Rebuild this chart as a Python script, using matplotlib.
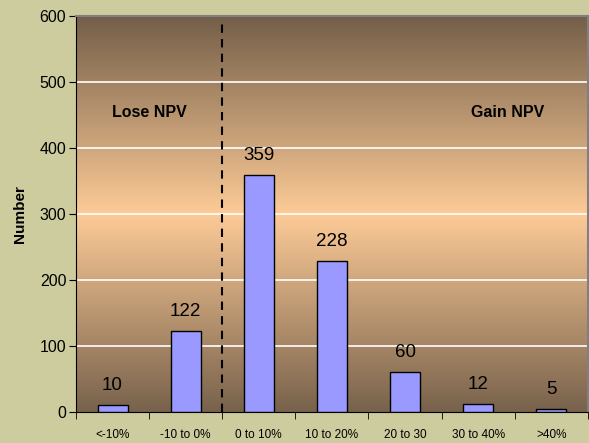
import numpy as np
import matplotlib
matplotlib.use('Agg')
import matplotlib.pyplot as plt
from matplotlib.colors import LinearSegmentedColormap

categories = ['<-10%', '-10 to 0%', '0 to 10%', '10 to 20%', '20 to 30', '30 to 40%', '>40%']
counts = [10, 122, 359, 228, 60, 12, 5]
yticks = [0, 100, 200, 300, 400, 500, 600]

plt.rcParams['font.family'] = ['Liberation Sans', 'DejaVu Sans']

fig = plt.figure(figsize=(5.89, 4.43), dpi=100)
fig.patch.set_facecolor('#cccc9e')
ax = fig.add_axes([0.129, 0.070, 0.869, 0.894])

x = np.arange(len(categories))
ax.set_xlim(-0.5, len(categories) - 0.5)
ax.set_ylim(0, 600)

# gradient background: brown -> peach -> brown
cmap = LinearSegmentedColormap.from_list('bg', ['#78624c', '#fdcb97', '#735e48'])
grad = np.linspace(0, 1, 256).reshape(-1, 1)
ax.imshow(grad, aspect='auto', cmap=cmap, origin='lower',
          extent=[-0.5, len(categories) - 0.5, 0, 600], zorder=0)

for yv in yticks[1:-1]:
    ax.axhline(yv, color='white', lw=1.2, zorder=1)

ax.bar(x, counts, width=0.41, color='#9999ff', edgecolor='black', lw=1, zorder=3)
for xi, c in zip(x, counts):
    ax.annotate(str(c), (xi, c), xytext=(0, 8), textcoords='offset points',
                ha='center', va='bottom', fontsize=13.5)

ax.axvline(1.5, color='black', ls=(0, (4, 3)), lw=1.5, ymax=0.99, zorder=2)

ax.text(0.5, 453, 'Lose NPV', ha='center', va='center', fontsize=11.5, fontweight='bold')
ax.text(5.4, 453, 'Gain NPV', ha='center', va='center', fontsize=11.5, fontweight='bold')

ax.set_yticks(yticks)
ax.set_yticklabels([str(v) for v in yticks], fontsize=11.5)
ax.set_xticks(x)
ax.set_xticklabels(categories, fontsize=8.5)
ax.set_xticks(np.arange(-0.5, len(categories)), minor=True)
ax.tick_params(axis='x', which='major', length=0, pad=12)
ax.tick_params(axis='x', which='minor', length=5, direction='out')
ax.tick_params(axis='y', length=5, direction='out', pad=2)
ax.set_ylabel('Number', fontsize=11, fontweight='bold', labelpad=9)

ax.spines['top'].set_color('#808080')
ax.spines['right'].set_color('#808080')
ax.spines['top'].set_linewidth(1.5)
ax.spines['right'].set_linewidth(1.5)

fig.savefig('out.png', dpi=100, facecolor=fig.get_facecolor())
